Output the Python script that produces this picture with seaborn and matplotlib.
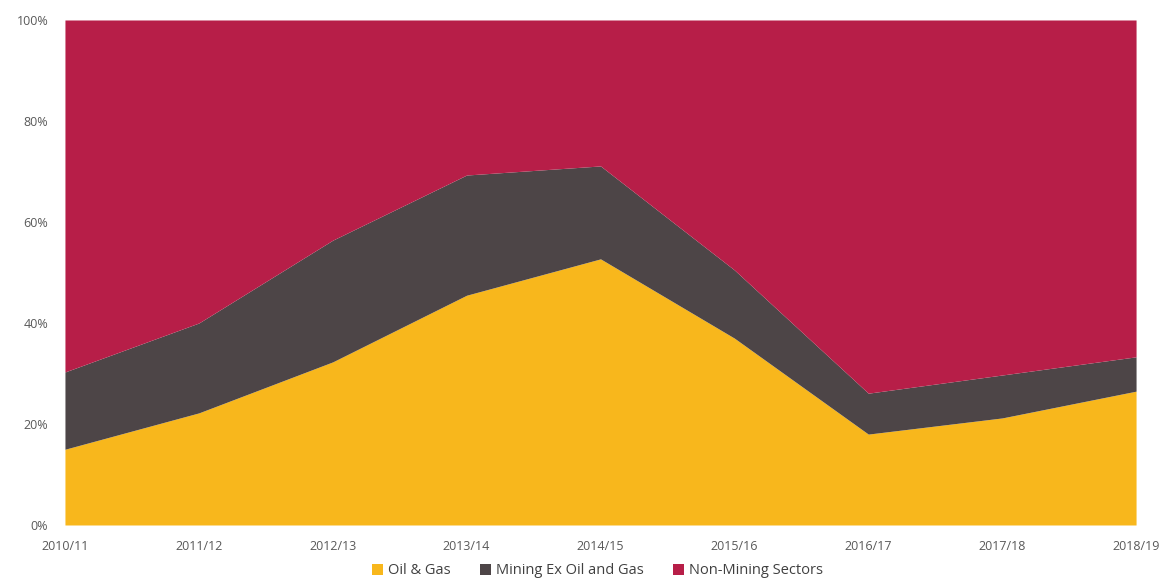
import pandas as pd
import matplotlib.pyplot as plt
import seaborn as sns
from matplotlib.ticker import PercentFormatter

years = ['2010/11', '2011/12', '2012/13', '2013/14', '2014/15',
         '2015/16', '2016/17', '2017/18', '2018/19']
oil_gas = [15.0, 22.2, 32.3, 45.5, 52.7, 37.0, 18.0, 21.2, 26.5]
mining_ex = [15.3, 17.8, 24.1, 23.8, 18.4, 13.5, 8.1, 8.5, 6.8]
non_mining = [100 - a - b for a, b in zip(oil_gas, mining_ex)]

labels = ['Oil & Gas', 'Mining Ex Oil and Gas', 'Non-Mining Sectors']
colors = ['#F8B71C', '#4D4547', '#B71E48']

df = pd.DataFrame({'year': years, labels[0]: oil_gas,
                   labels[1]: mining_ex, labels[2]: non_mining})

sns.set_theme(style='white')
plt.rcParams['font.family'] = ['Open Sans', 'DejaVu Sans']

fig = plt.figure(figsize=(11.64, 5.81), dpi=100)
ax = fig.add_axes([0.0558, 0.0964, 0.9202, 0.8692])

x = list(range(len(df)))
ax.stackplot(x, df[labels[0]], df[labels[1]], df[labels[2]],
             colors=colors, labels=labels, linewidth=0)

ax.set_xlim(0, len(df) - 1)
ax.set_ylim(0, 100)
ax.set_xticks(x)
ax.set_xticklabels(df['year'])
ax.set_yticks(range(0, 101, 20))
ax.yaxis.set_major_formatter(PercentFormatter(decimals=0))
ax.tick_params(axis='both', labelsize=9, colors='#595959', length=0)
ax.tick_params(axis='x', pad=11)
ax.tick_params(axis='y', pad=12)
sns.despine(ax=ax, left=True, bottom=True)

handles, lbls = ax.get_legend_handles_labels()
fig.legend(handles, lbls, loc='lower center', ncol=3, frameon=False,
           fontsize=10.5, labelcolor='#404040', handlelength=0.8,
           handleheight=0.8, handletextpad=0.3, columnspacing=2.0,
           bbox_to_anchor=(0.513, -0.018))

fig.savefig('out.png', dpi=100)
